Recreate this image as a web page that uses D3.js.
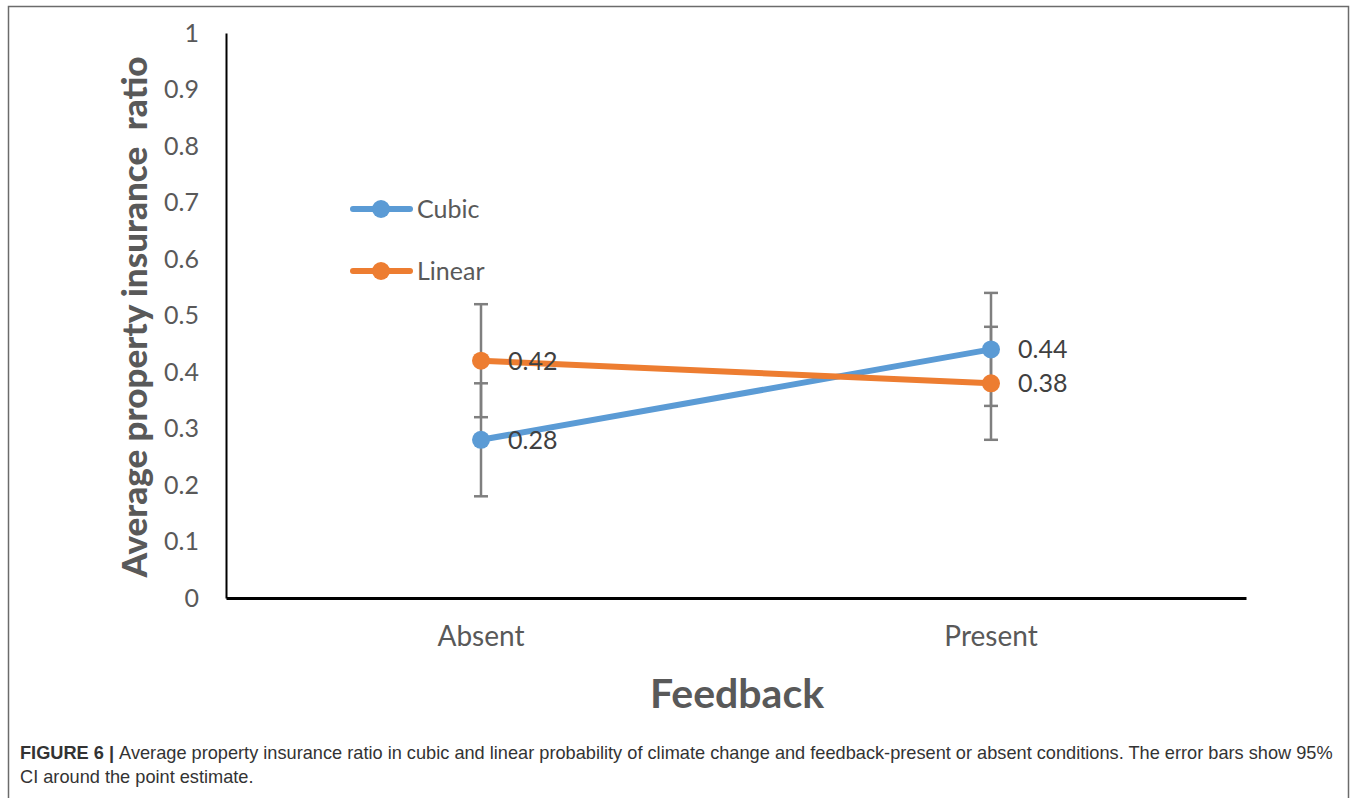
<!DOCTYPE html>
<html>
<head>
<meta charset="utf-8">
<script src="https://cdn.jsdelivr.net/npm/d3@7"></script>
<style>
  body { margin: 0; background: #fff; }
  svg { display: block; }
</style>
</head>
<body>
<div id="chart"></div>
<script>
// chart data
var categories = ["Absent", "Present"];
var seriesNames = ["Cubic", "Linear"];
var cubicValues = [0.28, 0.44];
var linearValues = [0.42, 0.38];
var cubicErr = [0.10, 0.10];
var linearErr = [0.10, 0.10];
var yTicks = [0, 0.1, 0.2, 0.3, 0.4, 0.5, 0.6, 0.7, 0.8, 0.9, 1];

var colors = { Cubic: "#5b9bd5", Linear: "#ed7d31" };
var series = [
  { name: "Cubic", values: cubicValues, err: cubicErr },
  { name: "Linear", values: linearValues, err: linearErr }
];

var width = 1357, height = 798;
var font = "Lato, 'Open Sans', sans-serif";
var grey = "#595959";

var svg = d3.select("#chart").append("svg")
    .attr("width", width)
    .attr("height", height);

// outer frame (open at the bottom)
svg.append("path")
    .attr("d", "M8.5," + height + " V6.5 H1348.5 V" + height)
    .attr("fill", "none")
    .attr("stroke", "#6b6b6b")
    .attr("stroke-width", 1.5);

var x = d3.scaleBand()
    .domain(categories)
    .range([226, 1246]);

var y = d3.scaleLinear()
    .domain([0, 1])
    .range([598, 33]);

// y axis
var yAxis = svg.append("g")
    .attr("transform", "translate(226,0)")
    .call(d3.axisLeft(y).tickValues(yTicks).tickSize(0).tickPadding(27).tickFormat(d3.format("")));
yAxis.select(".domain").attr("stroke", "#000").attr("stroke-width", 2);
yAxis.selectAll("text")
    .attr("font-family", font)
    .attr("font-size", 25)
    .attr("fill", grey);

// x axis
var xAxis = svg.append("g")
    .attr("transform", "translate(0,598)")
    .call(d3.axisBottom(x).tickSize(0).tickPadding(28));
xAxis.select(".domain").attr("stroke", "#000").attr("stroke-width", 3);
xAxis.selectAll("text")
    .attr("font-family", font)
    .attr("font-size", 28)
    .attr("fill", grey);

// axis titles
svg.append("text")
    .attr("transform", "translate(147,317) rotate(-90)")
    .attr("text-anchor", "middle")
    .attr("font-family", font)
    .attr("font-weight", "900")
    .attr("font-size", 35)
    .attr("fill", grey)
    .style("white-space", "pre")
    .text("Average property insurance  ratio");

svg.append("text")
    .attr("x", 737)
    .attr("y", 708)
    .attr("text-anchor", "middle")
    .attr("font-family", font)
    .attr("font-weight", "bold")
    .attr("font-size", 41)
    .attr("fill", grey)
    .text("Feedback");

var cx = function(i) { return x(categories[i]) + x.bandwidth() / 2; };

// error bars
series.forEach(function(s) {
  var g = svg.append("g");
  s.values.forEach(function(v, i) {
    var lo = y(v - s.err[i]), hi = y(v + s.err[i]);
    g.append("line")
        .attr("x1", cx(i)).attr("x2", cx(i))
        .attr("y1", lo).attr("y2", hi)
        .attr("stroke", "#7f7f7f").attr("stroke-width", 2.5);
    [lo, hi].forEach(function(yy) {
      g.append("line")
          .attr("x1", cx(i) - 7).attr("x2", cx(i) + 7)
          .attr("y1", yy).attr("y2", yy)
          .attr("stroke", "#7f7f7f").attr("stroke-width", 2.5);
    });
  });
});

// lines and markers
var line = d3.line()
    .x(function(d, i) { return cx(i); })
    .y(function(d) { return y(d); });

series.forEach(function(s) {
  svg.append("path")
      .datum(s.values)
      .attr("d", line)
      .attr("fill", "none")
      .attr("stroke", colors[s.name])
      .attr("stroke-width", 6)
      .attr("stroke-linecap", "round");
  svg.selectAll(null)
      .data(s.values)
      .enter().append("circle")
      .attr("cx", function(d, i) { return cx(i); })
      .attr("cy", function(d) { return y(d); })
      .attr("r", 9)
      .attr("fill", colors[s.name]);
});

// data labels
series.forEach(function(s) {
  svg.selectAll(null)
      .data(s.values)
      .enter().append("text")
      .attr("x", function(d, i) { return cx(i) + 27; })
      .attr("y", function(d) { return y(d) + 9; })
      .attr("font-family", font)
      .attr("font-size", 25)
      .attr("fill", "#404040")
      .text(function(d) { return d3.format(".2f")(d); });
});

// legend
var legend = svg.selectAll(".legend")
    .data(seriesNames)
    .enter().append("g")
    .attr("class", "legend")
    .attr("transform", function(d, i) { return "translate(350," + (209 + i * 62) + ")"; });
legend.append("line")
    .attr("x1", 3).attr("x2", 60)
    .attr("stroke", function(d) { return colors[d]; })
    .attr("stroke-width", 6)
    .attr("stroke-linecap", "round");
legend.append("circle")
    .attr("cx", 31).attr("r", 9)
    .attr("fill", function(d) { return colors[d]; });
legend.append("text")
    .attr("x", 67).attr("y", 9)
    .attr("font-family", font)
    .attr("font-size", 25)
    .attr("fill", grey)
    .text(function(d) { return d; });

// caption
var cap = svg.append("text")
    .attr("font-family", "'Liberation Sans Narrow', 'Liberation Sans', Arial, sans-serif")
    .attr("font-size", 18.2)
    .attr("fill", "#333");
var t1 = cap.append("tspan").attr("x", 20).attr("y", 759);
t1.append("tspan").attr("font-weight", "bold").text("FIGURE 6 | ");
t1.append("tspan").text("Average property insurance ratio in cubic and linear probability of climate change and feedback-present or absent conditions. The error bars show 95%");
cap.append("tspan").attr("x", 20).attr("y", 783)
    .text("CI around the point estimate.");
</script>
</body>
</html>
